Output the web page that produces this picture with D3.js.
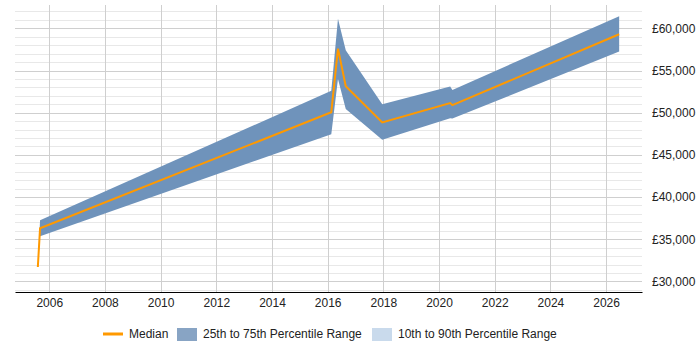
<!DOCTYPE html>
<html>
<head>
<meta charset="utf-8">
<script src="https://cdn.jsdelivr.net/npm/d3@7"></script>
<style>
  body { margin: 0; background: #fff; }
  text { font-family: "Liberation Sans", Arial, sans-serif; }
</style>
</head>
<body>
<script>
// --- Data ---
const dates  = [2005.59, 2005.67, 2016.13, 2016.37, 2016.65, 2017.96, 2020.40, 2020.48, 2026.47];
const median = [31700, 36300, 50050, 57600, 53150, 48850, 51150, 50900, 59300];
const p25    = [31600, 35350, 47450, 54000, 50450, 46800, 49350, 49300, 57250];
const p75    = [31800, 37250, 52600, 61150, 57400, 51000, 53100, 52700, 61450];
const xTicks = [2006, 2008, 2010, 2012, 2014, 2016, 2018, 2020, 2022, 2024, 2026];
const yTicks = [30000, 35000, 40000, 45000, 50000, 55000, 60000];
const legendItems = ["Median", "25th to 75th Percentile Range", "10th to 90th Percentile Range"];

const data = dates.map((d, i) => ({ x: d, med: median[i], lo: p25[i], hi: p75[i] }));

// --- SVG Setup ---
const width = 700, height = 350;
const margin = { top: 5, right: 58, bottom: 58, left: 15 };

const svg = d3.select("body").append("svg")
    .attr("width", width)
    .attr("height", height);

const x = d3.scaleLinear()
    .domain([2004.77, 2027.29])
    .range([margin.left, width - margin.right]);
const y = d3.scaleLinear()
    .domain([28740, 62770])
    .range([height - margin.bottom, margin.top]);

// Grid: minor every 1000, major at labelled ticks
const minor = d3.range(29000, 63000, 1000).filter(v => !yTicks.includes(v));
svg.append("g").selectAll("line")
    .data(minor)
    .enter().append("line")
    .attr("x1", margin.left).attr("x2", width - margin.right)
    .attr("y1", d => Math.round(y(d)) + 0.5).attr("y2", d => Math.round(y(d)) + 0.5)
    .attr("stroke", "#e8e8e8");

svg.append("g").selectAll("line")
    .data(yTicks)
    .enter().append("line")
    .attr("x1", margin.left).attr("x2", width - margin.right)
    .attr("y1", d => Math.round(y(d)) + 0.5).attr("y2", d => Math.round(y(d)) + 0.5)
    .attr("stroke", "#cfcfcf");

svg.append("g").selectAll("line")
    .data(xTicks)
    .enter().append("line")
    .attr("x1", d => Math.round(x(d)) + 0.5).attr("x2", d => Math.round(x(d)) + 0.5)
    .attr("y1", margin.top).attr("y2", height - margin.bottom)
    .attr("stroke", "#cfcfcf");

// 25th-75th band
const band = d3.area()
    .x(d => x(d.x))
    .y0(d => y(d.lo))
    .y1(d => y(d.hi));
svg.append("path")
    .datum(data)
    .attr("d", band)
    .attr("fill", "#6f93bb");

// Median line
const line = d3.line()
    .x(d => x(d.x))
    .y(d => y(d.med));
svg.append("path")
    .datum(data)
    .attr("d", line)
    .attr("fill", "none")
    .attr("stroke", "#ff9900")
    .attr("stroke-width", 2);

// Axes
const xAxis = svg.append("g")
    .attr("transform", `translate(0, ${height - margin.bottom})`)
    .call(d3.axisBottom(x).tickValues(xTicks).tickFormat(d3.format("d")).tickSize(0).tickPadding(6));
xAxis.select(".domain").attr("stroke", "#000");
xAxis.selectAll("text").style("font-size", "12px").attr("fill", "#222");

const yAxis = svg.append("g")
    .attr("transform", `translate(${width - margin.right}, 0)`)
    .call(d3.axisRight(y).tickValues(yTicks).tickFormat(d => "£" + d3.format(",")(d)).tickSize(0).tickPadding(10));
yAxis.select(".domain").remove();
yAxis.selectAll("text").style("font-size", "12px").attr("fill", "#222");

// Legend
const legend = svg.append("g").attr("transform", "translate(0, 334)");
const legendX = [103, 177, 372];
const legendColors = ["#ff9900", "#88a4c4", "#c9daec"];

legendItems.forEach((label, i) => {
    if (i === 0) {
        legend.append("line")
            .attr("x1", legendX[i]).attr("x2", legendX[i] + 20)
            .attr("y1", 0).attr("y2", 0)
            .attr("stroke", legendColors[i])
            .attr("stroke-width", 3);
    } else {
        legend.append("rect")
            .attr("x", legendX[i]).attr("y", -6)
            .attr("width", 20).attr("height", 13)
            .attr("fill", legendColors[i]);
    }
    legend.append("text")
        .attr("x", legendX[i] + 26)
        .attr("y", 4)
        .style("font-size", "12px")
        .attr("fill", "#222")
        .text(label);
});
</script>
</body>
</html>
